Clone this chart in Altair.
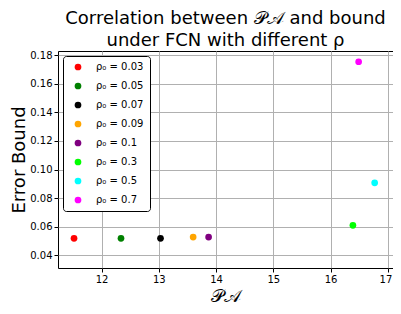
import altair as alt
import pandas as pd

labels = ["ρ₀ = 0.03", "ρ₀ = 0.05", "ρ₀ = 0.07", "ρ₀ = 0.09", "ρ₀ = 0.1", "ρ₀ = 0.3", "ρ₀ = 0.5", "ρ₀ = 0.7"]
pa_values = [11.52, 12.34, 13.03, 13.60, 13.87, 16.39, 16.77, 16.49]
bound_values = [0.0519, 0.0519, 0.0519, 0.0528, 0.0528, 0.0610, 0.0907, 0.1753]
colors = ["#ff0000", "#008000", "#000000", "#ffa500", "#800080", "#00ff00", "#00ffff", "#ff00ff"]

df = pd.DataFrame({"label": labels, "pa": pa_values, "bound": bound_values})

chart = alt.Chart(df).mark_circle(size=45, opacity=1).encode(
    x=alt.X("pa:Q", scale=alt.Scale(domain=[11.24, 17.09], nice=False, zero=False),
            axis=alt.Axis(title="𝒫𝒜", values=[12, 13, 14, 15, 16, 17], format="d",
                          labelFlush=10, labelFlushOffset=4)),
    y=alt.Y("bound:Q", scale=alt.Scale(domain=[0.0312, 0.1828], nice=False, zero=False),
            axis=alt.Axis(title="Error Bound", values=[0.04, 0.06, 0.08, 0.10, 0.12, 0.14, 0.16, 0.18], format=".2f")),
    color=alt.Color("label:N", scale=alt.Scale(domain=labels, range=colors), sort=labels,
                    legend=alt.Legend(title=None, orient="none", legendX=5, legendY=5,
                                      symbolType="circle", symbolSize=45, symbolStrokeWidth=0,
                                      labelFontSize=10, labelFont="DejaVu Sans", labelColor="black",
                                      rowPadding=9, padding=6, fillColor="white", strokeColor="black",
                                      cornerRadius=3, labelOffset=13, symbolOffset=4)),
).properties(
    width=335, height=217,
    title=alt.TitleParams(["Correlation between 𝒫𝒜 and bound", "under FCN with different ρ"],
                          fontSize=18, font="DejaVu Sans", fontWeight="normal", color="black",
                          anchor="middle", lineHeight=22, offset=0),
    autosize=alt.AutoSizeParams(type="none"),
    padding={"left": 50, "top": 43, "right": 0, "bottom": 38},
).configure_view(stroke="black", strokeWidth=1).configure_axis(
    grid=True, gridColor="#b0b0b0", gridWidth=1, domain=False,
    tickColor="black", tickSize=4, labelFontSize=10, labelFont="DejaVu Sans", labelColor="black",
    titleFont="DejaVu Sans", titleFontSize=18, titleFontWeight="normal", titleColor="black", labelPadding=2,
).configure_axisY(titlePadding=1).configure_axisX(titlePadding=3)

chart.save("out.html", embed_options={"renderer": "svg", "actions": False})
